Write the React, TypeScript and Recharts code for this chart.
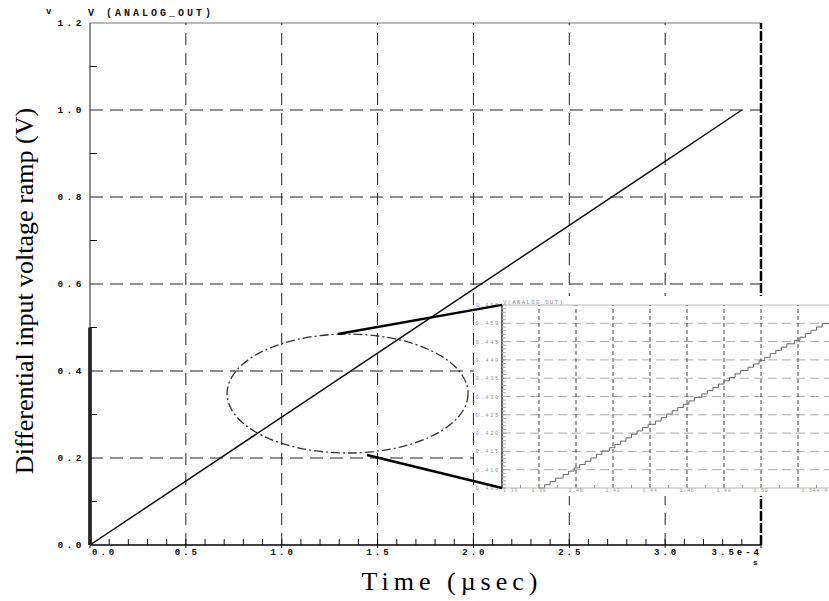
import { LineChart, Line, XAxis, YAxis, ReferenceLine, ReferenceArea } from "recharts";

// V(ANALOG_OUT) ramp, time in units of 1e-4 s
const rampTime = [0, 0.5, 1.0, 1.5, 2.0, 2.5, 3.0, 3.4];
const rampVolts = [0, 0.147, 0.294, 0.441, 0.588, 0.735, 0.882, 1.0];

// initial jump drawn along the left axis
const jumpTime = [0, 0];
const jumpVolts = [0, 0.5];

const xMajor = [0, 0.5, 1.0, 1.5, 2.0, 2.5, 3.0, 3.5];
const xMajorLabels = ["0.0", "0.5", "1.0", "1.5", "2.0", "2.5", "3.0", "3.5e-4"];
const yMajor = [0, 0.2, 0.4, 0.6, 0.8, 1.0, 1.2];
const yMajorLabels = ["0.0", "0.2", "0.4", "0.6", "0.8", "1.0", "1.2"];

// zoomed-in DAC staircase
const stepTime = [
  1.380, 1.383, 1.386, 1.389, 1.393, 1.396, 1.399, 1.402, 1.405, 1.408,
  1.411, 1.414, 1.418, 1.421, 1.424, 1.427, 1.430, 1.433, 1.436, 1.439,
  1.443, 1.446, 1.449, 1.452, 1.455, 1.458, 1.461, 1.464, 1.468, 1.471,
  1.474, 1.477, 1.480, 1.483, 1.486, 1.489, 1.493, 1.496, 1.499, 1.502,
  1.505, 1.508, 1.511, 1.514, 1.518, 1.521, 1.524, 1.527, 1.530, 1.533, 1.537,
];
const stepVolts = [
  0.4050, 0.4059, 0.4068, 0.4077, 0.4087, 0.4096, 0.4105, 0.4114, 0.4123, 0.4132,
  0.4142, 0.4151, 0.4160, 0.4169, 0.4178, 0.4187, 0.4197, 0.4206, 0.4215, 0.4224,
  0.4233, 0.4242, 0.4252, 0.4261, 0.4270, 0.4279, 0.4288, 0.4297, 0.4307, 0.4316,
  0.4325, 0.4334, 0.4343, 0.4352, 0.4362, 0.4371, 0.4380, 0.4389, 0.4398, 0.4407,
  0.4417, 0.4426, 0.4435, 0.4444, 0.4453, 0.4462, 0.4472, 0.4481, 0.4490, 0.4499, 0.4508,
];

// the 1.52 label is crowded out by the end label, as on the main axis
const insetXMajor = [1.36, 1.38, 1.40, 1.42, 1.44, 1.46, 1.48, 1.50, 1.52, 1.54];
const insetXLabels = ["1.36", "1.38", "1.40", "1.42", "1.44", "1.46", "1.48", "1.50", "", "1.54e-4"];
const insetYMajor = [0.405, 0.41, 0.415, 0.42, 0.425, 0.43, 0.435, 0.44, 0.445, 0.45, 0.455];
const insetYLabels = ["0.405", "0.410", "0.415", "0.420", "0.425", "0.430", "0.435", "0.440", "0.445", "0.450", "0.455"];

// callout: ellipse around the zoomed region and the two leader lines
const calloutT = [0.715, 1.972];
const calloutV = [0.2115, 0.485];
const leaderUpper = [{ x: 1.294, y: 0.485 }, { x: 2.149, y: 0.552 }];
const leaderLower = [{ x: 1.445, y: 0.207 }, { x: 2.149, y: 0.131 }];

const rampData = rampTime.map((t, i) => ({ t, v: rampVolts[i] }));
const jumpData = jumpTime.map((t, i) => ({ t, v: jumpVolts[i] }));
const stepData = stepTime.map((t, i) => ({ t, v: stepVolts[i] }));

const xTicks = Array.from({ length: 36 }, (_, i) => +(i * 0.1).toFixed(1));
const yTicks = Array.from({ length: 13 }, (_, i) => +(i * 0.1).toFixed(1));
const insetXTicks = Array.from({ length: 19 }, (_, i) => +(1.36 + i * 0.01).toFixed(2));
const insetYTicks = Array.from({ length: 51 }, (_, i) => +(0.405 + i * 0.001).toFixed(3));

const mono = '"Liberation Mono", "DejaVu Sans Mono", monospace';
const serif = '"Liberation Serif", "DejaVu Serif", serif';

const findMajor = (list: number[], v: number) => list.findIndex((m) => Math.abs(m - v) < 1e-6);

const MainXTick = (props: any) => {
  const { x, y, payload } = props;
  const k = findMajor(xMajor, payload.value);
  if (k < 0) return <line x1={x} x2={x} y1={y} y2={y - 6} stroke="#111" strokeWidth={1} />;
  const last = k === xMajor.length - 1;
  const anchor = k === 0 ? "start" : last ? "end" : "middle";
  const tx = k === 0 ? x + 2 : last ? x + 1 : x + 1.5;
  return (
    <g>
      <line x1={x} x2={x} y1={y - 6} y2={y + 3} stroke="#111" strokeWidth={1} />
      <text x={tx} y={y + 10} textAnchor={anchor} fontFamily={mono} fontWeight="bold" fontSize={9} letterSpacing={3} fill="#111">
        {xMajorLabels[k]}
      </text>
    </g>
  );
};

const MainYTick = (props: any) => {
  const { x, y, payload } = props;
  const k = findMajor(yMajor, payload.value);
  if (k < 0) return <line x1={x} x2={x + 7} y1={y} y2={y} stroke="#111" strokeWidth={1} />;
  return (
    <text x={x - 5} y={y + 3} textAnchor="end" fontFamily={mono} fontWeight="bold" fontSize={9.5} letterSpacing={3.5} fill="#111">
      {yMajorLabels[k]}
    </text>
  );
};

const InsetXTick = (props: any) => {
  const { x, y, payload } = props;
  const k = findMajor(insetXMajor, payload.value);
  if (k < 0) return <line x1={x} x2={x} y1={y} y2={y - 3} stroke="#999" strokeWidth={1} />;
  const last = k === insetXMajor.length - 1;
  return (
    <text x={last ? Math.min(x, 354) : k === 0 ? x + 1 : x} y={y + 4} textAnchor={last ? "end" : k === 0 ? "start" : "middle"}
      fontFamily={mono} fontSize={5} letterSpacing={0.8} fill="#999">
      {insetXLabels[k]}
    </text>
  );
};

const InsetYTick = (props: any) => {
  const { x, y, payload } = props;
  const k = findMajor(insetYMajor, payload.value);
  return (
    <g>
      <line x1={x} x2={x + 4} y1={y} y2={y} stroke="#aaa" strokeWidth={1} />
      {k >= 0 && (
        <text x={x - 2} y={y + 2} textAnchor="end" fontFamily={mono} fontSize={5.5} letterSpacing={1.6} fill="#999">
          {insetYLabels[k]}
        </text>
      )}
    </g>
  );
};

const CalloutEllipse = (props: any) => {
  const { x, y, width, height } = props;
  return (
    <ellipse cx={x + width / 2} cy={y + height / 2} rx={width / 2} ry={height / 2}
      fill="none" stroke="#333" strokeWidth={1.3} strokeDasharray="9 3 2 3" />
  );
};

function InsetChart() {
  return (
    <div style={{ position: "absolute", left: 474, top: 296, width: 355, height: 200, background: "#fff", overflow: "hidden" }}>
      <LineChart width={361} height={200} margin={{ top: 9, right: 0, bottom: 7, left: 27 }}>
        <XAxis type="number" dataKey="t" domain={[1.36, 1.54]} ticks={insetXTicks} interval={0}
          height={1} tickSize={0} tickMargin={0} tick={<InsetXTick />} axisLine={{ stroke: "#bbb", strokeWidth: 1 }} />
        <YAxis type="number" domain={[0.405, 0.455]} ticks={insetYTicks} interval={0}
          width={1} tickSize={0} tickMargin={0} tick={<InsetYTick />} axisLine={{ stroke: "#333", strokeWidth: 1.5 }} />
        <ReferenceLine y={0.455} stroke="#bbb" strokeWidth={1} />
        {insetYMajor.slice(1, -1).map((v) => (
          <ReferenceLine key={"ih" + v} y={v} stroke="#aaa" strokeWidth={1} strokeDasharray="9 5" />
        ))}
        {insetXMajor.slice(1).map((t) => (
          <ReferenceLine key={"iv" + t} x={t} stroke="#444" strokeWidth={1} strokeDasharray="4 3" />
        ))}
        <Line data={stepData} type="stepAfter" dataKey="v" stroke="#666" strokeWidth={1} dot={false} isAnimationActive={false} />
      </LineChart>
      <div style={{ position: "absolute", left: 29, top: 3, fontFamily: mono, fontSize: 5.5, letterSpacing: 1.4, color: "#888", whiteSpace: "pre" }}>
        V(ANALOG_OUT)
      </div>
    </div>
  );
}

// leader lines sit on top of the inset, on the main chart's scales
function LeaderLines() {
  return (
    <div style={{ position: "absolute", left: 0, top: 0, pointerEvents: "none" }}>
      <LineChart width={829} height={601} margin={{ top: 23, right: 68, bottom: 26, left: 30 }}>
        <XAxis type="number" dataKey="t" domain={[0, 3.5]} height={30} tick={false} axisLine={false} tickLine={false} />
        <YAxis type="number" domain={[0, 1.2]} width={60} tick={false} axisLine={false} tickLine={false} />
        <Line data={rampData} dataKey="v" stroke="none" dot={false} isAnimationActive={false} />
        <ReferenceLine segment={leaderUpper} stroke="#000" strokeWidth={2.5} ifOverflow="visible" />
        <ReferenceLine segment={leaderLower} stroke="#000" strokeWidth={2.5} ifOverflow="visible" />
      </LineChart>
    </div>
  );
}

export default function App() {
  return (
    <div style={{ position: "absolute", left: 0, top: 0, width: 829, height: 601, background: "#fff", overflow: "hidden" }}>
      <LineChart width={829} height={601} margin={{ top: 23, right: 68, bottom: 26, left: 30 }}>
        <XAxis type="number" dataKey="t" domain={[0, 3.5]} ticks={xTicks} interval={0}
          height={30} tickSize={0} tickMargin={0} tick={<MainXTick />} axisLine={{ stroke: "#000", strokeWidth: 1.5 }} />
        <YAxis type="number" domain={[0, 1.2]} ticks={yTicks} interval={0}
          width={60} tickSize={0} tickMargin={0} tick={<MainYTick />} axisLine={{ stroke: "#444", strokeWidth: 1.2 }} />
        {/* frame: thin top, heavy dashed right edge */}
        <ReferenceLine y={1.2} stroke="#777" strokeWidth={1.2} />
        {yMajor.slice(1, -1).map((v) => (
          <ReferenceLine key={"h" + v} y={v} stroke="#222" strokeWidth={1} strokeDasharray="13 7" />
        ))}
        {xMajor.slice(1, -1).map((t) => (
          <ReferenceLine key={"v" + t} x={t} stroke="#222" strokeWidth={1} strokeDasharray="12 8" />
        ))}
        <ReferenceLine x={3.5} stroke="#000" strokeWidth={2.5} strokeDasharray="10 2" />
        <ReferenceArea x1={calloutT[0]} x2={calloutT[1]} y1={calloutV[0]} y2={calloutV[1]} ifOverflow="visible" shape={<CalloutEllipse />} />
        <Line data={rampData} type="linear" dataKey="v" stroke="#111" strokeWidth={1.5} dot={false} isAnimationActive={false} />
        <Line data={jumpData} type="linear" dataKey="v" stroke="#000" strokeWidth={3.5} dot={false} isAnimationActive={false} />
      </LineChart>

      <svg width={829} height={601} style={{ position: "absolute", left: 0, top: 0, pointerEvents: "none" }}>
        <text x={46} y={14} fontFamily={mono} fontWeight="bold" fontSize={9} fill="#111">v</text>
        <text x={88} y={16} fontFamily={mono} fontWeight="bold" fontSize={10} letterSpacing={3} fill="#111">V (ANALOG_OUT)</text>
        <text x={753} y={565} fontFamily={mono} fontWeight="bold" fontSize={8} fill="#111">s</text>
        <text x={24} y={291} transform="rotate(-90 24 291)" textAnchor="middle" dominantBaseline="central"
          fontFamily={serif} fontSize={26} fill="#000">
          Differential input voltage ramp (V)
        </text>
        <text x={452} y={590} textAnchor="middle" fontFamily={serif} fontSize={26} letterSpacing={5} fill="#000">
          Time (µsec)
        </text>
      </svg>

      <InsetChart />
      <LeaderLines />
    </div>
  );
}
